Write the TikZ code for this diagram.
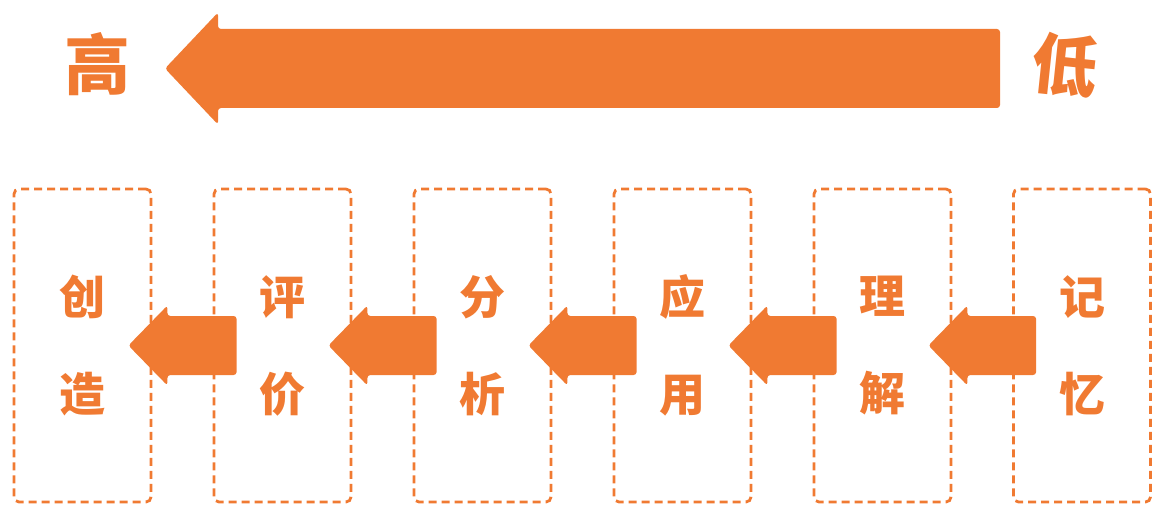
\documentclass[tikz,border=0pt]{standalone}
\usepackage{fontspec}
\usetikzlibrary{calc}
\newfontfamily\cjk{Noto Sans CJK SC}
\definecolor{levelorange}{rgb}{0.941,0.478,0.196}
\newlength{\du}
\setlength{\du}{1pt}
\tikzset{
  levelbox/.style={draw=levelorange, line width=2.8\du, dash pattern=on 8\du off 5\du,
    rounded corners=5\du, minimum width=137\du, minimum height=313\du, inner sep=0pt,
    align=center, text=levelorange, font=\cjk\bfseries\fontsize{46}{97}\selectfont},
  endlabel/.style={text=levelorange, inner sep=0pt, font=\cjk\bfseries\fontsize{66}{66}\selectfont},
  blockarrow/.style n args={3}{to path={
    let \p1=(\tikztostart), \p2=(\tikztotarget) in
    (\x1,\y1+#1) -- (\x2+#3,\y1+#1) -- (\x2+#3,\y1+#2) -- (\x2,\y1)
    -- (\x2+#3,\y1-#2) -- (\x2+#3,\y1-#1) -- (\x1,\y1-#1) -- cycle}},
  arrowfill/.style={fill=levelorange, rounded corners=3\du},
}
\begin{document}
\begin{tikzpicture}[x=\du, y=-\du]
\useasboundingbox (0,0) rectangle (1170,516);
% top scale
\node[endlabel] (high) at (97,64) {高};
\node[endlabel, rotate=-6] (low) at (1065,65) {低};
\coordinate (bigtail) at (1000,68.5);
\coordinate (bigtip) at (165,68.5);
\fill[arrowfill] (bigtail) to[blockarrow={39.5\du}{56\du}{53\du}] (bigtip);
% levels
\node[levelbox] (create) at (82.5,345.5) {创\\造};
\node[levelbox] (evaluate) at (282.5,345.5) {评\\价};
\node[levelbox] (analyse) at (482.5,345.5) {分\\析};
\node[levelbox] (apply) at (682.5,345.5) {应\\用};
\node[levelbox] (understand) at (882.5,345.5) {理\\解};
\node[levelbox] (remember) at (1082,345.5) {记\\忆};
% arrows between levels
\fill[arrowfill] ([xshift=24\du]evaluate.west) to[blockarrow={29.5\du}{40\du}{39\du}] ([xshift=-24\du]create.east);
\fill[arrowfill] ([xshift=24\du]analyse.west) to[blockarrow={29.5\du}{40\du}{39\du}] ([xshift=-24\du]evaluate.east);
\fill[arrowfill] ([xshift=24\du]apply.west) to[blockarrow={29.5\du}{40\du}{39\du}] ([xshift=-24\du]analyse.east);
\fill[arrowfill] ([xshift=24\du]understand.west) to[blockarrow={29.5\du}{40\du}{39\du}] ([xshift=-24\du]apply.east);
\fill[arrowfill] ([xshift=24\du]remember.west) to[blockarrow={29.5\du}{40\du}{39\du}] ([xshift=-24\du]understand.east);
\end{tikzpicture}
\end{document}
